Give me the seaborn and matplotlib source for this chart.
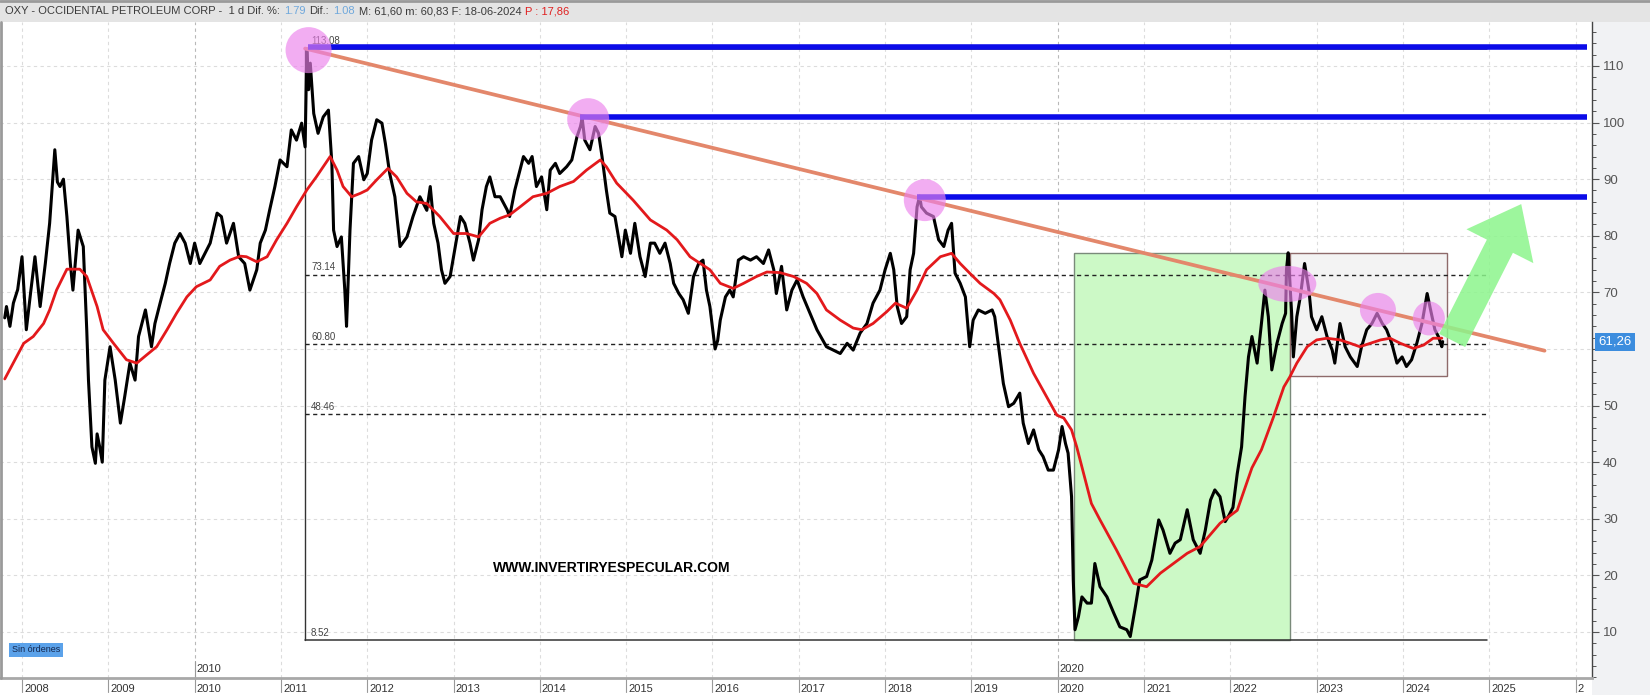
import matplotlib
matplotlib.use("Agg")
import matplotlib.pyplot as plt
import matplotlib.transforms as mtransforms
from matplotlib.patches import Rectangle, Ellipse
from matplotlib.ticker import MultipleLocator
import numpy as np
import pandas as pd
import seaborn as sns

# ---------------- data ----------------
price_t = [2007.80, 2007.82, 2007.86, 2007.90, 2007.95, 2008.00, 2008.05, 2008.10, 2008.15, 2008.21,
           2008.27, 2008.32, 2008.38, 2008.41, 2008.44, 2008.48, 2008.52, 2008.56, 2008.59, 2008.65,
           2008.71, 2008.75, 2008.77, 2008.81, 2008.85, 2008.87, 2008.90, 2008.93, 2008.96, 2009.02,
           2009.08, 2009.14, 2009.19, 2009.25, 2009.31, 2009.35, 2009.43, 2009.50, 2009.54, 2009.60,
           2009.66, 2009.71, 2009.77, 2009.83, 2009.89, 2009.95, 2010.00, 2010.06, 2010.12, 2010.18,
           2010.26, 2010.31, 2010.37, 2010.45, 2010.51, 2010.58, 2010.64, 2010.72, 2010.76, 2010.82,
           2010.87, 2010.93, 2010.99, 2011.07, 2011.12, 2011.18, 2011.24, 2011.28, 2011.30, 2011.32,
           2011.34, 2011.38, 2011.43, 2011.49, 2011.55, 2011.59, 2011.61, 2011.65, 2011.70, 2011.74,
           2011.76, 2011.80, 2011.84, 2011.90, 2011.96, 2012.00, 2012.05, 2012.11, 2012.17, 2012.21,
           2012.26, 2012.32, 2012.38, 2012.46, 2012.53, 2012.61, 2012.69, 2012.73, 2012.77, 2012.82,
           2012.86, 2012.90, 2012.96, 2013.02, 2013.08, 2013.13, 2013.19, 2013.23, 2013.29, 2013.33,
           2013.38, 2013.42, 2013.48, 2013.54, 2013.62, 2013.65, 2013.71, 2013.77, 2013.81, 2013.87,
           2013.91, 2013.96, 2014.02, 2014.08, 2014.12, 2014.18, 2014.23, 2014.31, 2014.37, 2014.43,
           2014.47, 2014.49, 2014.52, 2014.58, 2014.64, 2014.68, 2014.72, 2014.77, 2014.81, 2014.87,
           2014.91, 2014.95, 2014.99, 2015.05, 2015.10, 2015.16, 2015.22, 2015.28, 2015.33, 2015.39,
           2015.45, 2015.51, 2015.55, 2015.61, 2015.66, 2015.72, 2015.78, 2015.84, 2015.89, 2015.93,
           2015.97, 2016.03, 2016.06, 2016.09, 2016.15, 2016.20, 2016.24, 2016.30, 2016.36, 2016.44,
           2016.51, 2016.59, 2016.65, 2016.71, 2016.74, 2016.80, 2016.86, 2016.92, 2016.98, 2017.05,
           2017.13, 2017.21, 2017.32, 2017.40, 2017.48, 2017.56, 2017.63, 2017.71, 2017.79, 2017.86,
           2017.94, 2018.00, 2018.06, 2018.10, 2018.14, 2018.19, 2018.25, 2018.29, 2018.33, 2018.37,
           2018.40, 2018.42, 2018.48, 2018.56, 2018.62, 2018.68, 2018.73, 2018.77, 2018.81, 2018.87,
           2018.93, 2018.98, 2019.02, 2019.08, 2019.16, 2019.24, 2019.27, 2019.33, 2019.37, 2019.43,
           2019.49, 2019.56, 2019.60, 2019.66, 2019.72, 2019.78, 2019.83, 2019.89, 2019.95, 2020.01,
           2020.05, 2020.09, 2020.12, 2020.16, 2020.18, 2020.20, 2020.24, 2020.28, 2020.34, 2020.39,
           2020.43, 2020.49, 2020.57, 2020.65, 2020.72, 2020.80, 2020.84, 2020.90, 2020.95, 2021.03,
           2021.09, 2021.17, 2021.22, 2021.30, 2021.36, 2021.42, 2021.50, 2021.57, 2021.65, 2021.71,
           2021.77, 2021.82, 2021.88, 2021.94, 2021.98, 2022.03, 2022.08, 2022.13, 2022.17, 2022.21,
           2022.25, 2022.31, 2022.36, 2022.40, 2022.44, 2022.48, 2022.54, 2022.60, 2022.64, 2022.65,
           2022.67, 2022.71, 2022.73, 2022.77, 2022.81, 2022.86, 2022.91, 2022.94, 2023.00, 2023.06,
           2023.12, 2023.18, 2023.21, 2023.27, 2023.33, 2023.39, 2023.47, 2023.52, 2023.58, 2023.64,
           2023.70, 2023.76, 2023.81, 2023.87, 2023.93, 2023.99, 2024.04, 2024.10, 2024.16, 2024.22,
           2024.28, 2024.32, 2024.37, 2024.41, 2024.45, 2024.46]
price_v = [65.5, 67.5, 64.0, 68.1, 70.5, 76.3, 63.4, 70.0, 76.3, 67.5,
           75.1, 82.2, 95.2, 89.5, 88.7, 90.0, 83.4, 75.1, 70.4, 81.0,
           78.1, 63.4, 54.5, 42.7, 39.8, 45.0, 42.7, 40.0, 54.5, 60.4,
           54.5, 46.9, 51.6, 57.5, 54.5, 62.2, 66.9, 60.4, 64.5, 68.1,
           71.6, 75.1, 78.7, 80.4, 78.7, 75.1, 78.7, 75.1, 76.9, 78.7,
           84.0, 83.4, 78.7, 82.2, 76.3, 75.1, 70.4, 74.0, 78.7, 81.0,
           84.6, 88.7, 93.4, 92.2, 98.7, 96.9, 99.9, 95.7, 113.0, 105.8,
           110.5, 101.6, 98.1, 101.0, 102.2, 92.8, 81.0, 78.1, 79.8, 70.4,
           64.0, 81.0, 92.8, 94.0, 89.9, 91.0, 96.9, 100.5, 99.9, 96.3,
           91.0, 86.9, 78.1, 79.8, 83.4, 86.9, 84.5, 88.7, 82.2, 78.7,
           74.0, 71.6, 72.8, 78.1, 83.4, 82.2, 78.7, 75.7, 79.3, 84.6,
           88.7, 90.4, 86.9, 86.9, 84.6, 83.4, 88.1, 91.6, 94.0, 92.8,
           94.0, 88.7, 90.4, 84.6, 91.6, 92.8, 91.0, 92.2, 93.4, 97.5,
           99.3, 100.8, 96.9, 95.2, 99.3, 98.1, 94.0, 88.1, 84.0, 83.4,
           79.8, 76.3, 81.0, 76.9, 82.2, 76.3, 72.8, 78.7, 78.7, 76.9,
           78.7, 75.1, 71.6, 69.8, 68.7, 66.3, 72.8, 75.1, 75.7, 70.4,
           67.5, 60.0, 61.5, 65.1, 69.2, 70.4, 69.2, 75.7, 76.3, 75.7,
           76.3, 75.1, 77.5, 74.0, 69.8, 74.6, 66.9, 70.4, 72.2, 69.2,
           66.3, 63.4, 60.4, 59.8, 59.2, 61.0, 59.8, 62.8, 64.5, 68.1,
           70.4, 74.0, 76.9, 74.0, 67.5, 64.5, 65.7, 74.0, 76.9, 85.1,
           87.0, 85.1, 84.0, 83.4, 79.3, 78.1, 81.0, 82.2, 73.4, 71.6,
           69.2, 60.4, 65.1, 66.9, 66.3, 66.9, 65.7, 58.6, 53.9, 49.8,
           50.4, 52.2, 46.9, 43.3, 45.7, 42.2, 41.0, 38.6, 38.6, 42.2,
           46.3, 43.3, 41.6, 33.9, 19.2, 10.4, 12.7, 16.2, 15.1, 15.1,
           22.1, 18.0, 16.2, 13.3, 10.9, 10.4, 9.2, 14.5, 19.2, 19.8,
           22.7, 29.8, 28.0, 23.9, 25.7, 26.3, 31.6, 26.3, 23.9, 28.0,
           33.3, 35.1, 33.9, 29.5, 30.5, 32.0, 38.0, 42.7, 51.6, 58.6,
           62.2, 57.5, 64.5, 70.4, 65.7, 56.3, 61.0, 64.5, 66.3, 74.0,
           77.0, 66.3, 58.6, 65.7, 69.2, 75.1, 70.4, 65.7, 63.4, 65.7,
           62.2, 59.8, 57.5, 64.5, 60.4, 58.6, 56.9, 60.4, 63.4, 64.5,
           66.3, 64.5, 63.4, 61.0, 57.5, 58.6, 56.9, 58.1, 61.0, 64.5,
           69.8, 66.9, 63.4, 62.2, 60.4, 61.3]

ma_t = [2007.80, 2008.02, 2008.13, 2008.25, 2008.32, 2008.40, 2008.52, 2008.67, 2008.75, 2008.87,
        2008.94, 2009.06, 2009.21, 2009.33, 2009.44, 2009.56, 2009.68, 2009.79, 2009.91, 2010.02,
        2010.18, 2010.29, 2010.41, 2010.53, 2010.60, 2010.72, 2010.84, 2010.95, 2011.07, 2011.18,
        2011.30, 2011.41, 2011.57, 2011.65, 2011.72, 2011.82, 2011.92, 2012.00, 2012.11, 2012.24,
        2012.34, 2012.46, 2012.57, 2012.69, 2012.84, 2013.00, 2013.15, 2013.29, 2013.42, 2013.54,
        2013.65, 2013.77, 2013.92, 2014.08, 2014.23, 2014.39, 2014.54, 2014.70, 2014.77, 2014.89,
        2015.08, 2015.28, 2015.47, 2015.59, 2015.74, 2015.86, 2015.97, 2016.09, 2016.24, 2016.36,
        2016.51, 2016.63, 2016.78, 2016.94, 2017.09, 2017.21, 2017.32, 2017.48, 2017.63, 2017.73,
        2017.86, 2018.02, 2018.12, 2018.25, 2018.37, 2018.48, 2018.64, 2018.77, 2018.87, 2018.98,
        2019.10, 2019.26, 2019.33, 2019.45, 2019.56, 2019.72, 2019.87, 2019.99, 2020.07, 2020.16,
        2020.22, 2020.30, 2020.39, 2020.49, 2020.68, 2020.88, 2021.03, 2021.19, 2021.34, 2021.50,
        2021.65, 2021.88, 2022.08, 2022.25, 2022.36, 2022.50, 2022.62, 2022.69, 2022.77, 2022.89,
        2023.00, 2023.12, 2023.27, 2023.39, 2023.50, 2023.62, 2023.74, 2023.85, 2023.97, 2024.12,
        2024.24, 2024.35, 2024.45]
ma_v = [54.7, 61.0, 62.2, 64.5, 66.9, 70.4, 74.1, 74.1, 72.8, 67.5,
        63.4, 61.0, 58.1, 57.5, 58.9, 60.4, 63.4, 66.3, 69.2, 71.0,
        72.2, 74.6, 75.7, 76.4, 76.3, 75.4, 76.3, 79.3, 82.2, 85.1,
        88.1, 90.4, 94.0, 91.6, 88.7, 86.9, 87.5, 88.1, 89.9, 91.9,
        90.4, 87.5, 86.0, 85.7, 83.4, 80.4, 80.4, 79.8, 82.2, 83.1,
        83.7, 85.1, 86.9, 87.5, 88.7, 89.6, 91.6, 93.4, 92.2, 89.3,
        86.3, 82.8, 81.0, 79.3, 76.3, 75.1, 74.0, 71.6, 70.7, 71.6,
        72.8, 73.6, 73.5, 72.8, 71.6, 69.8, 66.9, 65.1, 63.7, 63.4,
        64.5, 66.6, 68.1, 67.2, 70.4, 74.0, 76.3, 76.9, 75.1, 73.4,
        71.6, 69.8, 68.7, 65.1, 61.0, 55.7, 51.6, 48.3, 47.8, 45.7,
        42.7, 38.0, 32.7, 29.8, 24.5, 18.6, 18.0, 20.4, 22.1, 23.9,
        25.1, 29.2, 31.5, 39.0, 42.2, 48.0, 53.3, 55.1, 57.5, 60.4,
        61.6, 61.9, 61.6, 61.0, 60.4, 61.0, 61.6, 61.9, 61.0, 60.1,
        60.7, 61.9, 61.9]

year_ticks = list(range(2008, 2026))
decade_labels = [2010, 2020]
y_ticks = list(range(10, 120, 10))
y_tick_labels = ["10", "20", "30", "40", "50", "", "70", "80", "90", "100", "110"]  # 60 hidden by price tag

fib_levels = [113.08, 73.14, 60.80, 48.46, 8.52]
fib_labels = ["113.08", "73.14", "60.80", "48.46", "8.52"]
fib_start, fib_end = 2011.28, 2024.97

res_levels = [113.3, 100.9, 86.9]
res_start = [2011.31, 2014.47, 2018.37]
res_end = 2026.13

trend_t = [2011.28, 2025.64]
trend_v = [113.08, 59.7]

circ_t = [2011.32, 2014.56, 2018.46, 2022.66, 2023.71, 2024.30]
circ_v = [112.8, 100.6, 86.3, 71.5, 66.9, 65.4]

green_box_t = [2020.19, 2022.69]
green_box_v = [8.52, 76.9]
gray_box_t = [2022.69, 2024.51]
gray_box_v = [55.2, 76.9]

arrow_from = (2024.57, 61.5)
arrow_to = (2025.37, 85.6)

last_price = 61.26
last_price_label = "61,26"

header_parts = [("OXY - OCCIDENTAL PETROLEUM CORP -  1 d Dif. %:", "#3a3a3a"),
                ("1.79", "#6fa8dc"),
                ("Dif.:", "#3a3a3a"),
                ("1.08", "#6fa8dc"),
                ("M: 61,60 m: 60,83 F: 18-06-2024", "#3a3a3a"),
                ("P : 17,86", "#e02020")]

# ---------------- styling / layout ----------------
sns.set_theme(style="white")
plt.rcParams['font.family'] = ['Liberation Sans', 'DejaVu Sans']

W, H = 1650, 695
fig = plt.figure(figsize=(W / 100, H / 100), dpi=100)
fig.patch.set_facecolor('white')

AX_L, AX_R, AX_T, AX_B = 0, 1592, 22, 678
ax = fig.add_axes([AX_L / W, 1 - AX_B / H, (AX_R - AX_L) / W, (AX_B - AX_T) / H])
XMIN, XMAX = 2007.745, 2026.19
YMIN, YMAX = 1.87, 117.77
ax.set_xlim(XMIN, XMAX)
ax.set_ylim(YMIN, YMAX)
ax.set_facecolor('white')
ppx = (AX_R - AX_L) / (XMAX - XMIN)
ppy = (AX_B - AX_T) / (YMAX - YMIN)

# right panel + header backgrounds
fig.add_artist(Rectangle((AX_R / W, 0), 1 - AX_R / W, 1 - AX_T / H, transform=fig.transFigure,
                         fc='#f1f2f4', ec='none', zorder=-5))
fig.add_artist(Rectangle((0, 1 - AX_T / H), 1, AX_T / H, transform=fig.transFigure,
                         fc='#e4e4e4', ec='none', zorder=-5))
fig.add_artist(plt.Line2D([0, 1], [1 - 1 / H, 1 - 1 / H], transform=fig.transFigure,
                          color='#9a9a9a', lw=2))
fig.add_artist(plt.Line2D([1 / W, 1 / W], [1 - AX_B / H, 1 - AX_T / H], transform=fig.transFigure,
                          color='#9a9a9a', lw=2))

# grid
for yr in year_ticks + [2026]:
    col = '#b8b8b8' if yr in decade_labels else '#dcdcdc'
    ax.axvline(yr, color=col, lw=0.8, ls=(0, (3, 3)), zorder=0.5)
for v in y_ticks:
    ax.axhline(v, color='#dcdcdc', lw=0.8, ls=(0, (3, 3)), zorder=0.5)

# boxes
ax.add_patch(Rectangle((green_box_t[0], green_box_v[0]), green_box_t[1] - green_box_t[0],
                       green_box_v[1] - green_box_v[0], fc='#ccf9c6', ec='#7a8a7a', lw=1, zorder=1))
ax.add_patch(Rectangle((gray_box_t[0], gray_box_v[0]), gray_box_t[1] - gray_box_t[0],
                       gray_box_v[1] - gray_box_v[0], fc='#f3f3f3', ec='#8e6a6a', lw=1, zorder=1))

# fibonacci retracement
ax.plot([fib_start, fib_start], [fib_levels[-1], fib_levels[0]], color='#333333', lw=1, zorder=2)
for lev, lab in zip(fib_levels, fib_labels):
    if lab in ("113.08", "8.52"):
        ax.plot([fib_start, fib_end], [lev, lev], color='#333333', lw=1.1, zorder=2)
    else:
        ax.plot([fib_start, fib_end], [lev, lev], color='#222222', lw=1, ls=(0, (3, 2.5)), zorder=2)
    ax.text(fib_start + 6 / ppx, lev + 2.5 / ppy, lab, fontsize=7, color='#444444',
            ha='left', va='bottom', zorder=2)

# price and moving average
sns.lineplot(x=price_t, y=price_v, ax=ax, color='black', lw=2.2, estimator=None, sort=False, zorder=3)
sns.lineplot(x=ma_t, y=ma_v, ax=ax, color='#e3191c', lw=2.0, estimator=None, sort=False, zorder=4)

# trend line and resistance lines
ax.plot(trend_t, trend_v, color='#e3876b', lw=2.7, solid_capstyle='round', zorder=5)
for lev, st in zip(res_levels, res_start):
    ax.plot([st, res_end], [lev, lev], color='#0b0be8', lw=4.0, zorder=5.5, solid_capstyle='butt')

# circles
radii = [(23, 23), (21, 21), (21, 21), (29, 18), (18, 17), (16, 17)]
for t, v, (rx, ry) in zip(circ_t, circ_v, radii):
    ax.add_patch(Ellipse((t, v), 2 * rx / ppx, 2 * ry / ppy, fc='#ec82ec', ec='none',
                         alpha=0.65, zorder=6))

# green arrow
ax.annotate('', xy=arrow_to, xytext=arrow_from,
            arrowprops=dict(arrowstyle='simple,head_length=1.7,head_width=2.7,tail_width=1.05',
                            mutation_scale=20, fc='#8cf58c', ec='none', alpha=0.85,
                            shrinkA=0, shrinkB=0), zorder=7)

# watermark
ax.text(2014.83, 21.3, 'WWW.INVERTIRYESPECULAR.COM', fontsize=10, fontweight='bold',
        ha='center', va='center', color='black', zorder=8)

# y axis (right)
ax.yaxis.tick_right()
ax.set_yticks(y_ticks)
ax.set_yticklabels(y_tick_labels)
ax.yaxis.set_minor_locator(MultipleLocator(2))
ax.tick_params(axis='y', which='major', right=True, left=False, length=5, width=0.8,
               color='#555555', labelsize=9.5, labelcolor='#555555', pad=3)
ax.tick_params(axis='y', which='minor', right=True, left=False, length=3, width=0.7, color='#555555')
ax.set_xticks([])
for s in ['top', 'left']:
    ax.spines[s].set_visible(False)
ax.spines['right'].set_color('#444444')
ax.spines['right'].set_linewidth(1)
ax.spines['bottom'].set_color('#a8a8a8')
ax.spines['bottom'].set_linewidth(2)
ax.set_xlabel('')
ax.set_ylabel('')
ax.grid(False)

# x axis labels (drawn beneath the axes)
trans = mtransforms.blended_transform_factory(ax.transData, fig.transFigure)
for yr in year_ticks + [2026]:
    ax.plot([yr, yr], [1 - AX_B / H, 1 - 692 / H], transform=trans, color='#999999', lw=0.8,
            clip_on=False)
    lab = str(yr) if yr < 2026 else '2'
    ax.text(yr + 2 / ppx, 1 - 689 / H, lab, transform=trans, fontsize=8, color='#333333',
            ha='left', va='center', clip_on=False)
for yr in decade_labels:
    ax.plot([yr, yr], [1 - AX_B / H, 1 - 661 / H], transform=trans, color='#999999', lw=0.8,
            clip_on=False)
    ax.text(yr + 2 / ppx, 1 - 669 / H, str(yr), transform=trans, fontsize=8, color='#333333',
            ha='left', va='center', clip_on=False)

# last price label
tr2 = mtransforms.blended_transform_factory(fig.transFigure, ax.transData)
fig.text(1598 / W, last_price, last_price_label, transform=tr2, fontsize=9.5, color='white',
         ha='left', va='center',
         bbox=dict(boxstyle='square,pad=0.25', fc='#3c8dde', ec='none'))

# "Sin órdenes" tag
fig.text(12 / W, 1 - 650 / H, 'Sin órdenes', fontsize=6.5, color='#14264d', ha='left', va='center',
         bbox=dict(boxstyle='square,pad=0.3', fc='#5ba2ea', ec='none'))

# header text chained
fig.canvas.draw()
renderer = fig.canvas.get_renderer()
x = 5
for s, c in header_parts:
    t = fig.text(x / W, 1 - 11.5 / H, s, fontsize=8.0, color=c, ha='left', va='center')
    bb = t.get_window_extent(renderer=renderer)
    x = bb.x1 + 4

fig.savefig('out.png', dpi=100, facecolor='white')
